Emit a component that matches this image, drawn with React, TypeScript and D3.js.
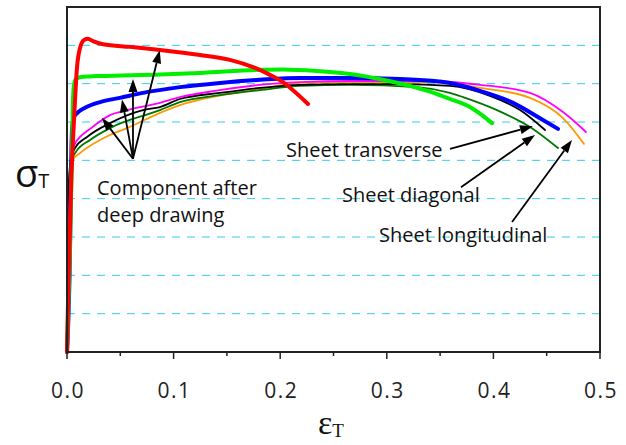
import React from "react";
import * as d3 from "d3";

// strain / stress values (stress in arbitrary units, gridline step 100)
const redX = [0, 0.001, 0.004, 0.0066, 0.0094, 0.0122, 0.016, 0.0197, 0.0244, 0.0338, 0.0591, 0.0872, 0.1248, 0.1529, 0.1764, 0.1904, 0.2026, 0.212, 0.2261];
const redY = [0, 136, 449, 605, 743, 793, 814, 817, 811, 803, 796, 788, 775, 762, 741, 723, 704, 683, 647];

const greenX = [0, 0.0028, 0.0047, 0.0056, 0.0066, 0.0084, 0.0122, 0.0216, 0.031, 0.0872, 0.1248, 0.181, 0.2026, 0.2345, 0.2655, 0.2964, 0.3283, 0.3471, 0.3593, 0.378, 0.3902, 0.3987];
const greenY = [0, 266, 527, 657, 697, 712, 717, 719, 720, 724, 728, 736, 737, 733, 725, 710, 689, 673, 660, 639, 616, 597];

const blueX = [0, 0.0028, 0.0038, 0.0047, 0.0066, 0.0094, 0.0169, 0.031, 0.0497, 0.0713, 0.106, 0.1435, 0.181, 0.2186, 0.2655, 0.3124, 0.3593, 0.3874, 0.4184, 0.4437, 0.4606];
const blueY = [0, 266, 475, 579, 613, 623, 637, 652, 663, 676, 691, 702, 710, 715, 715, 712, 702, 681, 650, 610, 582];

const magentaX = [0, 0.0019, 0.0028, 0.0047, 0.0084, 0.0122, 0.0216, 0.0403, 0.0563, 0.0872, 0.106, 0.1435, 0.181, 0.2186, 0.2655, 0.3405, 0.3874, 0.4343, 0.4653, 0.4869];
const magentaY = [0, 266, 436, 522, 548, 561, 582, 618, 631, 650, 665, 683, 697, 704, 707, 707, 697, 676, 626, 574];

const blackX = [0, 0.0009, 0.0019, 0.0038, 0.0075, 0.0188, 0.0403, 0.0713, 0.0872, 0.106, 0.1435, 0.181, 0.2186, 0.2655, 0.3124, 0.3593, 0.3968, 0.425, 0.4484];
const blackY = [0, 266, 449, 506, 532, 561, 597, 631, 639, 660, 676, 689, 697, 699, 699, 694, 668, 631, 579];

const dkGreenX = [0, 0.0009, 0.0019, 0.0038, 0.0084, 0.0216, 0.0403, 0.0872, 0.106, 0.1435, 0.181, 0.2186, 0.2655, 0.3283, 0.3593, 0.3715, 0.4034, 0.4343, 0.4606];
const dkGreenY = [0, 266, 436, 496, 522, 553, 584, 631, 652, 670, 683, 694, 697, 691, 676, 665, 631, 587, 532];

const orangeX = [0, 0.0005, 0.0009, 0.0019, 0.0028, 0.0056, 0.0122, 0.031, 0.0403, 0.0563, 0.0872, 0.106, 0.181, 0.2186, 0.2655, 0.3405, 0.3874, 0.4343, 0.4653, 0.485];
const orangeY = [0, 136, 266, 423, 475, 501, 519, 553, 566, 584, 624, 644, 686, 702, 704, 704, 689, 663, 610, 543];

const xTicks = [0, 0.1, 0.2, 0.3, 0.4, 0.5];
const xMinorTicks = [0.05, 0.15, 0.25, 0.35, 0.45];
const yGrid = [100, 200, 300, 400, 500, 600, 700, 800];

const seriesList = [
  { name: "sheetOrange", xs: orangeX, ys: orangeY, color: "#ff9900", w: 1.8 },
  { name: "sheetDkGreen", xs: dkGreenX, ys: dkGreenY, color: "#007700", w: 1.8 },
  { name: "sheetBlack", xs: blackX, ys: blackY, color: "#000000", w: 1.8 },
  { name: "compMagenta", xs: magentaX, ys: magentaY, color: "#ff00ff", w: 1.8 },
  { name: "compBlue", xs: blueX, ys: blueY, color: "#0000ff", w: 4 },
  { name: "compGreen", xs: greenX, ys: greenY, color: "#00ee00", w: 4 },
  { name: "compRed", xs: redX, ys: redY, color: "#ff0000", w: 4 },
];

// annotation arrows in data coordinates: [fromX, fromY, toX, toY]
const compArrows = [
  [0.0619, 504, 0.0328, 611],
  [0.0619, 504, 0.0516, 659],
  [0.0619, 504, 0.0619, 712],
  [0.0619, 504, 0.087, 787],
];
const sheetArrows = [
  [0.3593, 530, 0.4371, 589],
  [0.3696, 430, 0.4390, 566],
  [0.4175, 339, 0.4737, 553],
];

export default function App() {
  const W = 626, H = 445;
  const x = d3.scaleLinear().domain([0, 0.5]).range([67, 600]);
  const y = d3.scaleLinear().domain([0, 900]).range([352, 7]);
  const line = d3.line<[number, number]>().x(d => x(d[0])).y(d => y(d[1])).curve(d3.curveMonotoneX);
  const font = "'Open Sans', 'DejaVu Sans', sans-serif";

  const arrow = (a: number[], i: number, key: string) => {
    const x1 = x(a[0]), y1 = y(a[1]), x2 = x(a[2]), y2 = y(a[3]);
    const ang = Math.atan2(y2 - y1, x2 - x1);
    const L = 13, hw = 4.5;
    const bx = x2 - L * Math.cos(ang), by = y2 - L * Math.sin(ang);
    const px = -Math.sin(ang) * hw, py = Math.cos(ang) * hw;
    return (
      <g key={key + i}>
        <line x1={x1} y1={y1} x2={bx} y2={by} stroke="#000" strokeWidth={1.8} />
        <path d={`M${x2},${y2}L${bx + px},${by + py}L${bx - px},${by - py}Z`} fill="#000" />
      </g>
    );
  };

  return (
    <svg width={W} height={H} style={{ position: "absolute", left: 0, top: 0, background: "#fff" }}>
      {yGrid.map(v => (
        <line key={v} x1={x(0)} x2={x(0.5)} y1={y(v)} y2={y(v)} stroke="#33ccee" strokeWidth={1} strokeDasharray="8,7" />
      ))}
      {seriesList.map(s => (
        <path key={s.name} d={line(s.xs.map((v, i) => [v, s.ys[i]] as [number, number])) || ""} fill="none" stroke={s.color} strokeWidth={s.w} strokeLinejoin="round" strokeLinecap="round" />
      ))}
      <rect x={x(0)} y={y(900)} width={x(0.5) - x(0)} height={y(0) - y(900)} fill="none" stroke="#222" strokeWidth={2} />
      {xTicks.map(t => (
        <g key={"t" + t}>
          <line x1={x(t)} x2={x(t)} y1={352} y2={359} stroke="#222" strokeWidth={1.5} />
          <text x={x(t) + 1} y={398} textAnchor="middle" fontFamily={font} fontSize={21} letterSpacing={1.5} fill="#222">{t.toFixed(1)}</text>
        </g>
      ))}
      {xMinorTicks.map(t => (
        <line key={"m" + t} x1={x(t)} x2={x(t)} y1={352} y2={356} stroke="#222" strokeWidth={1.5} />
      ))}
      {compArrows.map((a, i) => arrow(a, i, "c"))}
      {sheetArrows.map((a, i) => arrow(a, i, "s"))}
      <text x={97} y={195} fontFamily={font} fontSize={20} fill="#111">Component after</text>
      <text x={97} y={222} fontFamily={font} fontSize={20} fill="#111">deep drawing</text>
      <text x={286} y={157} fontFamily={font} fontSize={20} fill="#111">Sheet transverse</text>
      <text x={342} y={202} fontFamily={font} fontSize={20} fill="#111">Sheet diagonal</text>
      <text x={379} y={242} fontFamily={font} fontSize={20} fill="#111">Sheet longitudinal</text>
      <text x={318} y={434} fontFamily="'Liberation Serif', 'DejaVu Serif', serif" fontSize={34} fill="#111">ε<tspan fontSize={19} dy={3}>T</tspan></text>
      <text x={15} y={187} fontFamily={font} fontSize={38} fill="#111">σ<tspan fontSize={20} dy={1}>T</tspan></text>
    </svg>
  );
}
